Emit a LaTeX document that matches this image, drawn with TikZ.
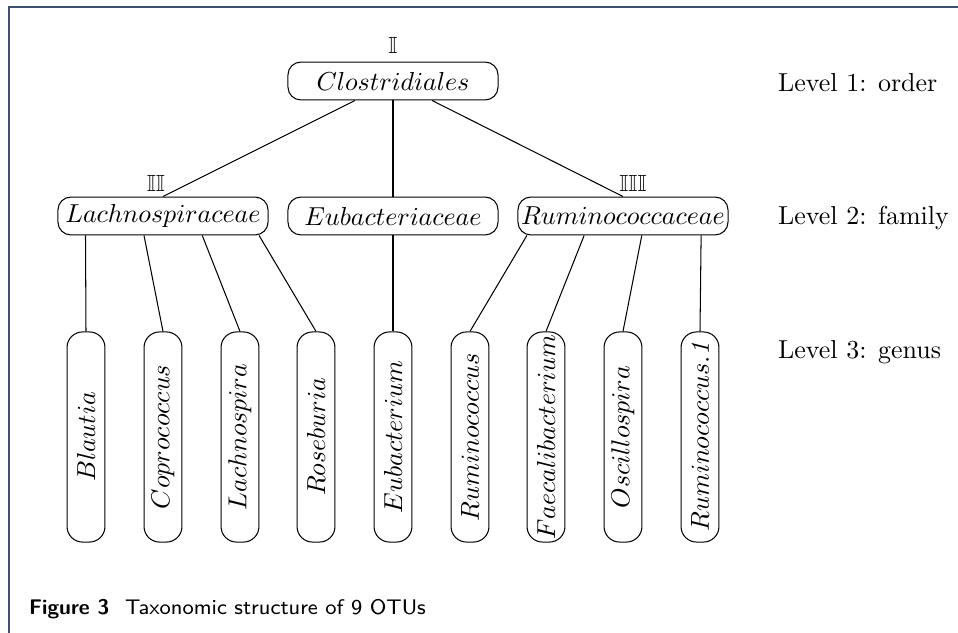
\documentclass[tikz,border=0pt]{standalone}
\usepackage{fontspec}
\usepackage{amssymb}
\usepackage{graphicx}
\usetikzlibrary{calc}
\definecolor{framecol}{RGB}{60,80,112}
\tikzset{
    famnode/.style={draw, rounded corners=5pt, minimum width=80.9pt, minimum height=14.6pt, inner sep=0pt},
    gennode/.style={draw, rounded corners=6pt, minimum width=14.6pt, minimum height=80.9pt, inner sep=0pt},
    levtext/.style={anchor=west},
    marktext/.style={font=\fontsize{9}{10}\selectfont, inner sep=0pt},
  }

\begin{document}
\begin{tikzpicture}[x=0.385pt, y=-0.385pt]
                  %cadre et legende
                  \useasboundingbox (0,0) rectangle (958,633);
                  \draw[framecol, line width=0.6pt] (9,633) -- (9,7) -- (958,7);
                  \node[anchor=west, font=\sffamily\fontsize{8.15}{10}\selectfont] (cap) at (20,609) {\textbf{Figure 3}\hspace{0.75em}Taxonomic structure of 9 OTUs};
                  %niveau 1 : ordre
                  \node[famnode] (clos) at (393,81) {$Clostridiales$};
                  \node[marktext] (mclos) at (393,45) {$\mathbb{I}$};
                  %niveau 2 : familles
                  \node[famnode] (lach) at (163,216) {$Lachnospiraceae$};
                  \node[famnode] (eubf) at (393,216) {$Eubacteriaceae$};
                  \node[famnode] (rumf) at (623,216) {$Ruminococcaceae$};
                  \node[marktext] (mlach) at (156,183) {$\mathbb{II}$};
                  \node[marktext] (mrumf) at (633,183) {$\mathbb{III}$};
                  %niveau 3 : genres
                  \node[gennode] (blau) at (86,437) {\rotatebox{90}{$Blautia$}};
                  \node[gennode] (copr) at (163,437) {\rotatebox{90}{$Coprococcus$}};
                  \node[gennode] (lchs) at (240,437) {\rotatebox{90}{$Lachnospira$}};
                  \node[gennode] (rose) at (316,437) {\rotatebox{90}{$Roseburia$}};
                  \node[gennode] (eubg) at (393,437) {\rotatebox{90}{$Eubacterium$}};
                  \node[gennode] (rumg) at (470,437) {\rotatebox{90}{$Ruminococcus$}};
                  \node[gennode] (faec) at (546,437) {\rotatebox{90}{$Faecalibacterium$}};
                  \node[gennode] (osci) at (623,437) {\rotatebox{90}{$Oscillospira$}};
                  \node[gennode] (rumo) at (700,437) {\rotatebox{90}{$Ruminococcus.\mathit{1}$}};
                  %niveaux
                  \node[levtext] (lev1) at (769,83) {Level 1: order};
                  \node[levtext] (lev2) at (769,218) {Level 2: family};
                  \node[levtext] (lev3) at (769,352) {Level 3: genus};
                  %aretes
                  \draw ($(clos.south west)!0.32!(clos.south east)$) -- (lach.north);
                  \draw (clos.south) -- (eubf.north);
                  \draw ($(clos.south west)!0.685!(clos.south east)$) -- (rumf.north);
                  \draw ($(lach.south west)!0.133!(lach.south east)$) -- (blau.north);
                  \draw ($(lach.south west)!0.41!(lach.south east)$) -- (copr.north);
                  \draw ($(lach.south west)!0.686!(lach.south east)$) -- (lchs.north);
                  \draw ($(lach.south west)!0.955!(lach.south east)$) -- (rose.north);
                  \draw (eubf.south) -- (eubg.north);
                  \draw ($(rumf.south west)!0.045!(rumf.south east)$) -- (rumg.north);
                  \draw ($(rumf.south west)!0.316!(rumf.south east)$) -- (faec.north);
                  \draw ($(rumf.south west)!0.589!(rumf.south east)$) -- (osci.north);
                  \draw ($(rumf.south west)!0.87!(rumf.south east)$) -- (rumo.north);
\end{tikzpicture}
\end{document}
